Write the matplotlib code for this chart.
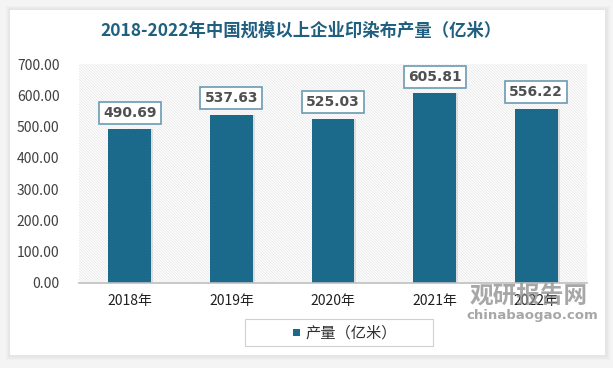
import matplotlib.pyplot as plt
from matplotlib.patches import Rectangle
import numpy as np

plt.rcParams['font.family'] = ['Noto Sans CJK SC', 'DejaVu Sans']

years = ['2018年', '2019年', '2020年', '2021年', '2022年']
output = [490.69, 537.63, 525.03, 605.81, 556.22]
yticks = [0, 100, 200, 300, 400, 500, 600, 700]
title = '2018-2022年中国规模以上企业印染布产量（亿米）'
series_name = '产量（亿米）'

bar_color = '#1b6a8c'

W, H = 613, 368
fig = plt.figure(figsize=(W / 100, H / 100), dpi=100)
fig.patch.set_facecolor('#f4f4f4')

# card with soft shadow
for d in [4, 3, 2, 1]:
    fig.patches.append(Rectangle(((10 - d) / W, (H - 356 - d) / H), (596 + 2 * d) / W, (346 + 2 * d) / H,
                                 transform=fig.transFigure, facecolor='#b0b0b0', edgecolor='none',
                                 alpha=0.05, zorder=-10))
fig.patches.append(Rectangle((10 / W, (H - 355) / H), 595 / W, 345 / H,
                             transform=fig.transFigure, facecolor='white', edgecolor='none', zorder=-9))

# plot area
x0, x1 = 79, 587
y_top, y_bot = 64, 283
ax = fig.add_axes([x0 / W, (H - y_bot) / H, (x1 - x0) / W, (y_bot - y_top) / H])
ax.set_facecolor('none')
ax.set_xlim(-0.5, len(years) - 0.5)
ax.set_ylim(0, 700)

# hatched background (fine, faint)
plt.rcParams['hatch.linewidth'] = 0.5
ax.add_patch(Rectangle((-0.5, 0), len(years), 700, facecolor='white', edgecolor='#e4e4e4',
                       hatch='\\' * 12, linewidth=0, zorder=0))

x = np.arange(len(years))
# bar shadows
ax.bar(x + 0.02, output, width=0.42, color='#999999', alpha=0.25, zorder=1)
ax.bar(x, output, width=0.42, color=bar_color, zorder=2)

for xi, v in zip(x, output):
    ax.annotate('%.2f' % v, (xi, v), xytext=(0, 12), textcoords='offset points',
                ha='center', va='center', fontsize=10, fontweight='bold', color='#505050',
                family='DejaVu Sans',
                bbox=dict(boxstyle='square,pad=0.3', facecolor='white', edgecolor='#6a9bb3', linewidth=1.2),
                zorder=5)

ax.set_yticks(yticks)
ax.set_yticklabels(['%.2f' % t for t in yticks], fontsize=10, color='#404040')
ax.set_xticks(x)
ax.set_xticklabels(years, fontsize=10, color='#202020')
ax.tick_params(axis='both', length=0)
ax.tick_params(axis='y', pad=14)
ax.tick_params(axis='x', pad=8)
for s in ['top', 'right', 'left']:
    ax.spines[s].set_visible(False)
ax.spines['bottom'].set_color('#bfbfbf')
ax.spines['bottom'].set_linewidth(1.2)

fig.text(301 / W, 1 - 31 / H, title, ha='center', va='center', fontsize=12.5,
         fontweight='bold', color='#1f5f80')

# legend
fig.patches.append(Rectangle((245 / W, (H - 346) / H), 188 / W, 27 / H,
                             transform=fig.transFigure, facecolor='white', edgecolor='#d0d0d0', linewidth=0.8))
fig.patches.append(Rectangle((293 / W, (H - 336) / H), 7 / W, 7 / H,
                             transform=fig.transFigure, facecolor=bar_color, edgecolor='none'))
fig.text(305 / W, 1 - 333 / H, series_name, ha='left', va='center', fontsize=11, color='#303030')

# watermark
fig.text(470 / W, 1 - 296 / H, '观研报告网', ha='left', va='center', fontsize=17,
         fontweight='bold', color='#8a8a8a', alpha=0.75)
fig.text(466 / W, 1 - 316 / H, 'chinabaogao.com', ha='left', va='center', fontsize=9.5,
         fontweight='bold', color='#8a8a8a', alpha=0.75, family='DejaVu Sans')

fig.savefig('out.png', dpi=100, facecolor=fig.get_facecolor())
